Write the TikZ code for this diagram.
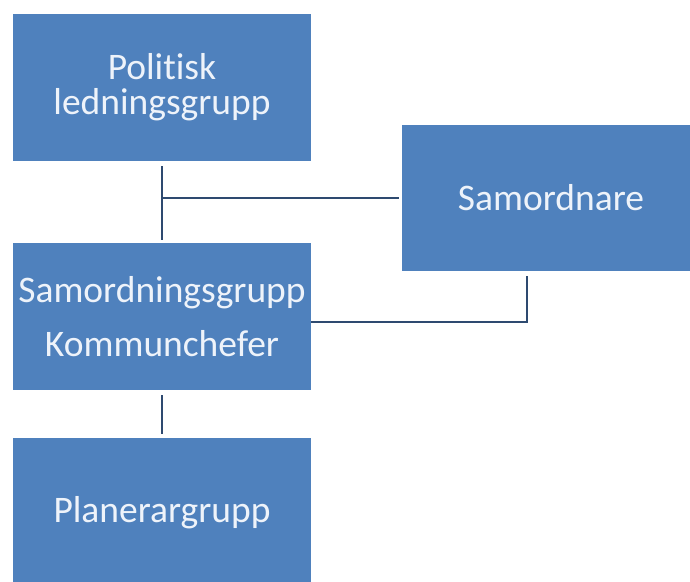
\documentclass[tikz,border=0pt]{standalone}
\usepackage{fontspec}
\setmainfont{Carlito}[Ligatures=NoCommon]
\definecolor{boxblue}{HTML}{4F81BD}
\definecolor{linecol}{HTML}{2E4A70}
\definecolor{txt}{HTML}{EEF3FA}
\begin{document}
\begin{tikzpicture}[x=1pt,y=-1pt,
  orgbox/.style={draw=none, fill=boxblue, inner sep=0pt, minimum width=298pt, minimum height=147pt, text=txt, align=center, font=\fontsize{37.5}{35}\selectfont},
  conn/.style={draw=linecol, line width=2pt}]
\useasboundingbox (0,0) rectangle (690,581);
\node[orgbox] (pol) at (162,87.5) {\raisebox{-2pt}{\parbox{298pt}{\centering Politisk\\ledningsgrupp}}};
\node[orgbox, minimum height=146pt] (sn) at (551,198) {Samordnare};
\node[orgbox] (sg) at (162,316.5) {Samordningsgrupp\\[19pt]Kommunchefer};
\node[orgbox, minimum height=150pt] (pl) at (162,513) {Planerargrupp};
\coordinate (j1) at (pol.south |- sn.west);
\coordinate (j2) at ([xshift=-24pt]sn.south);
\draw[conn, shorten <=5pt, shorten >=3pt] (pol.south) -- (sg.north);
\draw[conn, shorten >=3pt] (j1) -- (sn.west);
\draw[conn, shorten >=5pt] ([yshift=-5.5pt]sg.east) -| (j2);
\draw[conn, shorten <=5pt, shorten >=4pt] (sg.south) -- (pl.north);
\end{tikzpicture}
\end{document}
